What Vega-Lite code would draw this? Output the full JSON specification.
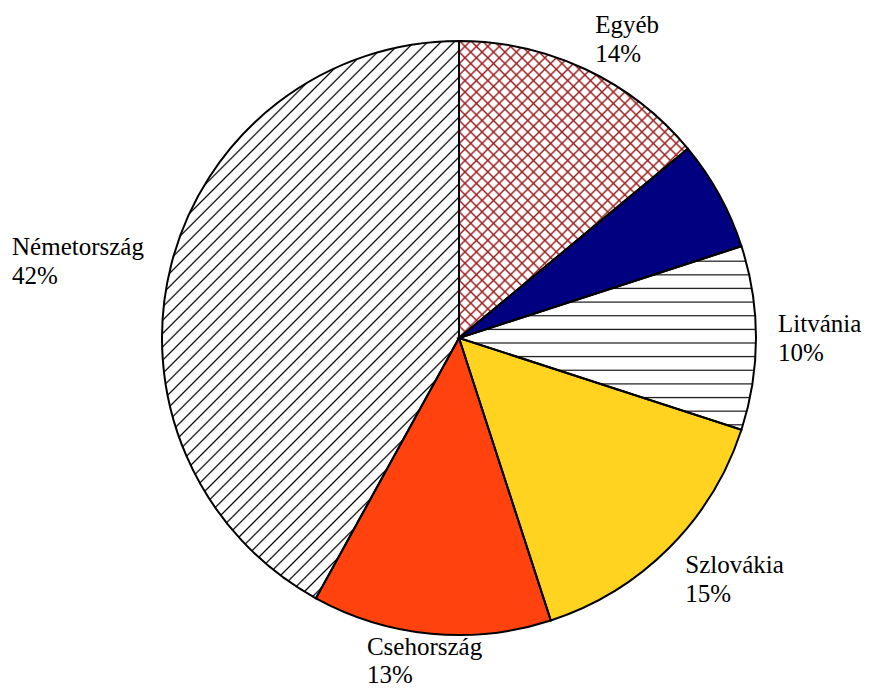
{
  "$schema": "https://vega.github.io/schema/vega-lite/v6.json",
  "width": 820,
  "height": 676,
  "autosize": {"type": "none"},
  "padding": {"left": 49, "top": 0, "right": 0, "bottom": 13},
  "background": "#ffffff",
  "view": {"stroke": null},
  "config": {"font": "Liberation Serif"},
  "data": {"values": [
    {"name": "Egyéb", "value": 14, "order": 1},
    {"name": "Ismeretlen", "value": 6, "order": 2},
    {"name": "Litvánia", "value": 10, "order": 3},
    {"name": "Szlovákia", "value": 15, "order": 4},
    {"name": "Csehország", "value": 13, "order": 5},
    {"name": "Németország", "value": 42, "order": 6}
  ]},
  "transform": [
    {"stack": "value", "groupby": [], "sort": [{"field": "order", "order": "ascending"}], "as": ["v0", "v1"]},
    {"calculate": "(datum.v0 + datum.v1) / 2", "as": "mid"},
    {"calculate": "datum.name + '\\n' + datum.value + '%'", "as": "label"}
  ],
  "layer": [
    {
      "mark": {"type": "arc", "radius": 297},
      "encoding": {
        "theta": {"field": "v0", "type": "quantitative", "scale": {"domain": [0, 100]}},
        "theta2": {"field": "v1"},
        "fill": {"field": "name", "type": "nominal", "legend": null,
          "scale": {"domain": ["Egyéb", "Ismeretlen", "Litvánia", "Szlovákia", "Csehország", "Németország"],
                    "range": ["#ffffff", "#000080", "#ffffff", "#ffd320", "#ff420e", "#ffffff"]}}
      }
    },
    {
      "transform": [{"filter": {"field": "name", "equal": "Németország"}}],
      "mark": {"type": "arc", "radius": 297, "fill": {"gradient": "linear", "x1": 0, "y1": 0, "x2": 0.6362, "y2": 1.1939, "stops": [
        {"offset": 0, "color": "#fff"},
        {"offset": 0.2008, "color": "#fff"}, {"offset": 0.2028, "color": "#000"}, {"offset": 0.2048, "color": "#fff"},
        {"offset": 0.2164, "color": "#fff"}, {"offset": 0.2184, "color": "#000"}, {"offset": 0.2204, "color": "#fff"},
        {"offset": 0.232, "color": "#fff"}, {"offset": 0.234, "color": "#000"}, {"offset": 0.236, "color": "#fff"},
        {"offset": 0.2476, "color": "#fff"}, {"offset": 0.2496, "color": "#000"}, {"offset": 0.2516, "color": "#fff"},
        {"offset": 0.2632, "color": "#fff"}, {"offset": 0.2652, "color": "#000"}, {"offset": 0.2672, "color": "#fff"},
        {"offset": 0.2788, "color": "#fff"}, {"offset": 0.2808, "color": "#000"}, {"offset": 0.2828, "color": "#fff"},
        {"offset": 0.2944, "color": "#fff"}, {"offset": 0.2964, "color": "#000"}, {"offset": 0.2984, "color": "#fff"},
        {"offset": 0.31, "color": "#fff"}, {"offset": 0.312, "color": "#000"}, {"offset": 0.314, "color": "#fff"},
        {"offset": 0.3256, "color": "#fff"}, {"offset": 0.3276, "color": "#000"}, {"offset": 0.3296, "color": "#fff"},
        {"offset": 0.3412, "color": "#fff"}, {"offset": 0.3432, "color": "#000"}, {"offset": 0.3452, "color": "#fff"},
        {"offset": 0.3568, "color": "#fff"}, {"offset": 0.3588, "color": "#000"}, {"offset": 0.3608, "color": "#fff"},
        {"offset": 0.3724, "color": "#fff"}, {"offset": 0.3744, "color": "#000"}, {"offset": 0.3764, "color": "#fff"},
        {"offset": 0.388, "color": "#fff"}, {"offset": 0.39, "color": "#000"}, {"offset": 0.392, "color": "#fff"},
        {"offset": 0.4036, "color": "#fff"}, {"offset": 0.4056, "color": "#000"}, {"offset": 0.4076, "color": "#fff"},
        {"offset": 0.4192, "color": "#fff"}, {"offset": 0.4212, "color": "#000"}, {"offset": 0.4232, "color": "#fff"},
        {"offset": 0.4348, "color": "#fff"}, {"offset": 0.4368, "color": "#000"}, {"offset": 0.4388, "color": "#fff"},
        {"offset": 0.4504, "color": "#fff"}, {"offset": 0.4524, "color": "#000"}, {"offset": 0.4544, "color": "#fff"},
        {"offset": 0.466, "color": "#fff"}, {"offset": 0.468, "color": "#000"}, {"offset": 0.47, "color": "#fff"},
        {"offset": 0.4816, "color": "#fff"}, {"offset": 0.4836, "color": "#000"}, {"offset": 0.4856, "color": "#fff"},
        {"offset": 0.4972, "color": "#fff"}, {"offset": 0.4992, "color": "#000"}, {"offset": 0.5012, "color": "#fff"},
        {"offset": 0.5128, "color": "#fff"}, {"offset": 0.5148, "color": "#000"}, {"offset": 0.5168, "color": "#fff"},
        {"offset": 0.5284, "color": "#fff"}, {"offset": 0.5304, "color": "#000"}, {"offset": 0.5324, "color": "#fff"},
        {"offset": 0.544, "color": "#fff"}, {"offset": 0.546, "color": "#000"}, {"offset": 0.548, "color": "#fff"},
        {"offset": 0.5596, "color": "#fff"}, {"offset": 0.5616, "color": "#000"}, {"offset": 0.5636, "color": "#fff"},
        {"offset": 0.5752, "color": "#fff"}, {"offset": 0.5772, "color": "#000"}, {"offset": 0.5792, "color": "#fff"},
        {"offset": 0.5908, "color": "#fff"}, {"offset": 0.5928, "color": "#000"}, {"offset": 0.5948, "color": "#fff"},
        {"offset": 0.6064, "color": "#fff"}, {"offset": 0.6084, "color": "#000"}, {"offset": 0.6104, "color": "#fff"},
        {"offset": 0.622, "color": "#fff"}, {"offset": 0.624, "color": "#000"}, {"offset": 0.626, "color": "#fff"},
        {"offset": 0.6376, "color": "#fff"}, {"offset": 0.6396, "color": "#000"}, {"offset": 0.6416, "color": "#fff"},
        {"offset": 0.6532, "color": "#fff"}, {"offset": 0.6552, "color": "#000"}, {"offset": 0.6572, "color": "#fff"},
        {"offset": 0.6688, "color": "#fff"}, {"offset": 0.6708, "color": "#000"}, {"offset": 0.6728, "color": "#fff"},
        {"offset": 0.6844, "color": "#fff"}, {"offset": 0.6864, "color": "#000"}, {"offset": 0.6884, "color": "#fff"},
        {"offset": 0.7, "color": "#fff"}, {"offset": 0.702, "color": "#000"}, {"offset": 0.704, "color": "#fff"},
        {"offset": 0.7156, "color": "#fff"}, {"offset": 0.7176, "color": "#000"}, {"offset": 0.7196, "color": "#fff"},
        {"offset": 0.7312, "color": "#fff"}, {"offset": 0.7332, "color": "#000"}, {"offset": 0.7352, "color": "#fff"},
        {"offset": 0.7468, "color": "#fff"}, {"offset": 0.7488, "color": "#000"}, {"offset": 0.7508, "color": "#fff"},
        {"offset": 0.7624, "color": "#fff"}, {"offset": 0.7644, "color": "#000"}, {"offset": 0.7664, "color": "#fff"},
        {"offset": 0.778, "color": "#fff"}, {"offset": 0.78, "color": "#000"}, {"offset": 0.782, "color": "#fff"},
        {"offset": 0.7936, "color": "#fff"}, {"offset": 0.7956, "color": "#000"}, {"offset": 0.7976, "color": "#fff"},
        {"offset": 0.8092, "color": "#fff"}, {"offset": 0.8112, "color": "#000"}, {"offset": 0.8132, "color": "#fff"},
        {"offset": 0.8248, "color": "#fff"}, {"offset": 0.8268, "color": "#000"}, {"offset": 0.8288, "color": "#fff"},
        {"offset": 0.8404, "color": "#fff"}, {"offset": 0.8424, "color": "#000"}, {"offset": 0.8444, "color": "#fff"},
        {"offset": 1, "color": "#fff"}
      ]}},
      "encoding": {
        "theta": {"field": "v0", "type": "quantitative", "scale": {"domain": [0, 100]}},
        "theta2": {"field": "v1"}
      }
    },
    {
      "transform": [{"filter": {"field": "name", "equal": "Litvánia"}}],
      "mark": {"type": "arc", "radius": 297, "fill": {"gradient": "linear", "x1": 0, "y1": 0, "x2": 0, "y2": 1, "stops": [
        {"offset": 0, "color": "#fff"},
        {"offset": 0.0752, "color": "#fff"}, {"offset": 0.0817, "color": "#111"}, {"offset": 0.0882, "color": "#fff"},
        {"offset": 0.1493, "color": "#fff"}, {"offset": 0.1558, "color": "#111"}, {"offset": 0.1623, "color": "#fff"},
        {"offset": 0.2233, "color": "#fff"}, {"offset": 0.2298, "color": "#111"}, {"offset": 0.2363, "color": "#fff"},
        {"offset": 0.298, "color": "#fff"}, {"offset": 0.3045, "color": "#111"}, {"offset": 0.311, "color": "#fff"},
        {"offset": 0.372, "color": "#fff"}, {"offset": 0.3785, "color": "#111"}, {"offset": 0.385, "color": "#fff"},
        {"offset": 0.4467, "color": "#fff"}, {"offset": 0.4532, "color": "#111"}, {"offset": 0.4597, "color": "#fff"},
        {"offset": 0.5207, "color": "#fff"}, {"offset": 0.5272, "color": "#111"}, {"offset": 0.5337, "color": "#fff"},
        {"offset": 0.5948, "color": "#fff"}, {"offset": 0.6013, "color": "#111"}, {"offset": 0.6078, "color": "#fff"},
        {"offset": 0.6694, "color": "#fff"}, {"offset": 0.6759, "color": "#111"}, {"offset": 0.6824, "color": "#fff"},
        {"offset": 0.7435, "color": "#fff"}, {"offset": 0.75, "color": "#111"}, {"offset": 0.7565, "color": "#fff"},
        {"offset": 0.8181, "color": "#fff"}, {"offset": 0.8246, "color": "#111"}, {"offset": 0.8311, "color": "#fff"},
        {"offset": 0.8922, "color": "#fff"}, {"offset": 0.8987, "color": "#111"}, {"offset": 0.9052, "color": "#fff"},
        {"offset": 0.9663, "color": "#fff"}, {"offset": 0.9728, "color": "#111"}, {"offset": 0.9793, "color": "#fff"},
        {"offset": 1, "color": "#fff"}
      ]}},
      "encoding": {
        "theta": {"field": "v0", "type": "quantitative", "scale": {"domain": [0, 100]}},
        "theta2": {"field": "v1"}
      }
    },
    {
      "transform": [{"filter": {"field": "name", "equal": "Egyéb"}}],
      "mark": {"type": "arc", "radius": 297, "fill": {"gradient": "linear", "x1": 0, "y1": 0, "x2": 0.8559, "y2": 1.1111, "stops": [
        {"offset": 0, "color": "#fff"},
        {"offset": 0.0177, "color": "#fff"}, {"offset": 0.0217, "color": "#9c2222"}, {"offset": 0.0257, "color": "#fff"},
        {"offset": 0.0394, "color": "#fff"}, {"offset": 0.0434, "color": "#9c2222"}, {"offset": 0.0474, "color": "#fff"},
        {"offset": 0.0611, "color": "#fff"}, {"offset": 0.0651, "color": "#9c2222"}, {"offset": 0.0691, "color": "#fff"},
        {"offset": 0.0828, "color": "#fff"}, {"offset": 0.0868, "color": "#9c2222"}, {"offset": 0.0908, "color": "#fff"},
        {"offset": 0.1045, "color": "#fff"}, {"offset": 0.1085, "color": "#9c2222"}, {"offset": 0.1125, "color": "#fff"},
        {"offset": 0.1262, "color": "#fff"}, {"offset": 0.1302, "color": "#9c2222"}, {"offset": 0.1342, "color": "#fff"},
        {"offset": 0.1479, "color": "#fff"}, {"offset": 0.1519, "color": "#9c2222"}, {"offset": 0.1559, "color": "#fff"},
        {"offset": 0.1696, "color": "#fff"}, {"offset": 0.1736, "color": "#9c2222"}, {"offset": 0.1776, "color": "#fff"},
        {"offset": 0.1913, "color": "#fff"}, {"offset": 0.1953, "color": "#9c2222"}, {"offset": 0.1993, "color": "#fff"},
        {"offset": 0.213, "color": "#fff"}, {"offset": 0.217, "color": "#9c2222"}, {"offset": 0.221, "color": "#fff"},
        {"offset": 0.2347, "color": "#fff"}, {"offset": 0.2387, "color": "#9c2222"}, {"offset": 0.2427, "color": "#fff"},
        {"offset": 0.2564, "color": "#fff"}, {"offset": 0.2604, "color": "#9c2222"}, {"offset": 0.2644, "color": "#fff"},
        {"offset": 0.2781, "color": "#fff"}, {"offset": 0.2821, "color": "#9c2222"}, {"offset": 0.2861, "color": "#fff"},
        {"offset": 0.2998, "color": "#fff"}, {"offset": 0.3038, "color": "#9c2222"}, {"offset": 0.3078, "color": "#fff"},
        {"offset": 0.3215, "color": "#fff"}, {"offset": 0.3255, "color": "#9c2222"}, {"offset": 0.3295, "color": "#fff"},
        {"offset": 0.3432, "color": "#fff"}, {"offset": 0.3472, "color": "#9c2222"}, {"offset": 0.3512, "color": "#fff"},
        {"offset": 0.3649, "color": "#fff"}, {"offset": 0.3689, "color": "#9c2222"}, {"offset": 0.3729, "color": "#fff"},
        {"offset": 0.3866, "color": "#fff"}, {"offset": 0.3906, "color": "#9c2222"}, {"offset": 0.3946, "color": "#fff"},
        {"offset": 0.4083, "color": "#fff"}, {"offset": 0.4123, "color": "#9c2222"}, {"offset": 0.4163, "color": "#fff"},
        {"offset": 0.43, "color": "#fff"}, {"offset": 0.434, "color": "#9c2222"}, {"offset": 0.438, "color": "#fff"},
        {"offset": 0.4517, "color": "#fff"}, {"offset": 0.4557, "color": "#9c2222"}, {"offset": 0.4597, "color": "#fff"},
        {"offset": 0.4734, "color": "#fff"}, {"offset": 0.4774, "color": "#9c2222"}, {"offset": 0.4814, "color": "#fff"},
        {"offset": 0.4951, "color": "#fff"}, {"offset": 0.4991, "color": "#9c2222"}, {"offset": 0.5031, "color": "#fff"},
        {"offset": 0.5168, "color": "#fff"}, {"offset": 0.5208, "color": "#9c2222"}, {"offset": 0.5248, "color": "#fff"},
        {"offset": 0.5385, "color": "#fff"}, {"offset": 0.5425, "color": "#9c2222"}, {"offset": 0.5465, "color": "#fff"},
        {"offset": 0.5602, "color": "#fff"}, {"offset": 0.5642, "color": "#9c2222"}, {"offset": 0.5682, "color": "#fff"},
        {"offset": 0.5819, "color": "#fff"}, {"offset": 0.5859, "color": "#9c2222"}, {"offset": 0.5899, "color": "#fff"},
        {"offset": 0.6036, "color": "#fff"}, {"offset": 0.6076, "color": "#9c2222"}, {"offset": 0.6116, "color": "#fff"},
        {"offset": 0.6253, "color": "#fff"}, {"offset": 0.6293, "color": "#9c2222"}, {"offset": 0.6333, "color": "#fff"},
        {"offset": 0.647, "color": "#fff"}, {"offset": 0.651, "color": "#9c2222"}, {"offset": 0.655, "color": "#fff"},
        {"offset": 1, "color": "#fff"}
      ]}},
      "encoding": {
        "theta": {"field": "v0", "type": "quantitative", "scale": {"domain": [0, 100]}},
        "theta2": {"field": "v1"}
      }
    },
    {
      "transform": [{"filter": {"field": "name", "equal": "Egyéb"}}],
      "mark": {"type": "arc", "radius": 297, "fill": {"gradient": "linear", "x1": 1, "y1": 0, "x2": 0.1441, "y2": 1.1111, "stops": [
        {"offset": 0, "color": "rgba(156,34,34,0)"},
        {"offset": 0.1913, "color": "rgba(156,34,34,0)"}, {"offset": 0.1953, "color": "#9c2222"}, {"offset": 0.1993, "color": "rgba(156,34,34,0)"},
        {"offset": 0.213, "color": "rgba(156,34,34,0)"}, {"offset": 0.217, "color": "#9c2222"}, {"offset": 0.221, "color": "rgba(156,34,34,0)"},
        {"offset": 0.2347, "color": "rgba(156,34,34,0)"}, {"offset": 0.2387, "color": "#9c2222"}, {"offset": 0.2427, "color": "rgba(156,34,34,0)"},
        {"offset": 0.2564, "color": "rgba(156,34,34,0)"}, {"offset": 0.2604, "color": "#9c2222"}, {"offset": 0.2644, "color": "rgba(156,34,34,0)"},
        {"offset": 0.2781, "color": "rgba(156,34,34,0)"}, {"offset": 0.2821, "color": "#9c2222"}, {"offset": 0.2861, "color": "rgba(156,34,34,0)"},
        {"offset": 0.2998, "color": "rgba(156,34,34,0)"}, {"offset": 0.3038, "color": "#9c2222"}, {"offset": 0.3078, "color": "rgba(156,34,34,0)"},
        {"offset": 0.3215, "color": "rgba(156,34,34,0)"}, {"offset": 0.3255, "color": "#9c2222"}, {"offset": 0.3295, "color": "rgba(156,34,34,0)"},
        {"offset": 0.3432, "color": "rgba(156,34,34,0)"}, {"offset": 0.3472, "color": "#9c2222"}, {"offset": 0.3512, "color": "rgba(156,34,34,0)"},
        {"offset": 0.3649, "color": "rgba(156,34,34,0)"}, {"offset": 0.3689, "color": "#9c2222"}, {"offset": 0.3729, "color": "rgba(156,34,34,0)"},
        {"offset": 0.3866, "color": "rgba(156,34,34,0)"}, {"offset": 0.3906, "color": "#9c2222"}, {"offset": 0.3946, "color": "rgba(156,34,34,0)"},
        {"offset": 0.4083, "color": "rgba(156,34,34,0)"}, {"offset": 0.4123, "color": "#9c2222"}, {"offset": 0.4163, "color": "rgba(156,34,34,0)"},
        {"offset": 0.43, "color": "rgba(156,34,34,0)"}, {"offset": 0.434, "color": "#9c2222"}, {"offset": 0.438, "color": "rgba(156,34,34,0)"},
        {"offset": 0.4517, "color": "rgba(156,34,34,0)"}, {"offset": 0.4557, "color": "#9c2222"}, {"offset": 0.4597, "color": "rgba(156,34,34,0)"},
        {"offset": 0.4734, "color": "rgba(156,34,34,0)"}, {"offset": 0.4774, "color": "#9c2222"}, {"offset": 0.4814, "color": "rgba(156,34,34,0)"},
        {"offset": 0.4951, "color": "rgba(156,34,34,0)"}, {"offset": 0.4991, "color": "#9c2222"}, {"offset": 0.5031, "color": "rgba(156,34,34,0)"},
        {"offset": 0.5168, "color": "rgba(156,34,34,0)"}, {"offset": 0.5208, "color": "#9c2222"}, {"offset": 0.5248, "color": "rgba(156,34,34,0)"},
        {"offset": 0.5385, "color": "rgba(156,34,34,0)"}, {"offset": 0.5425, "color": "#9c2222"}, {"offset": 0.5465, "color": "rgba(156,34,34,0)"},
        {"offset": 0.5602, "color": "rgba(156,34,34,0)"}, {"offset": 0.5642, "color": "#9c2222"}, {"offset": 0.5682, "color": "rgba(156,34,34,0)"},
        {"offset": 0.5819, "color": "rgba(156,34,34,0)"}, {"offset": 0.5859, "color": "#9c2222"}, {"offset": 0.5899, "color": "rgba(156,34,34,0)"},
        {"offset": 0.6036, "color": "rgba(156,34,34,0)"}, {"offset": 0.6076, "color": "#9c2222"}, {"offset": 0.6116, "color": "rgba(156,34,34,0)"},
        {"offset": 0.6253, "color": "rgba(156,34,34,0)"}, {"offset": 0.6293, "color": "#9c2222"}, {"offset": 0.6333, "color": "rgba(156,34,34,0)"},
        {"offset": 0.647, "color": "rgba(156,34,34,0)"}, {"offset": 0.651, "color": "#9c2222"}, {"offset": 0.655, "color": "rgba(156,34,34,0)"},
        {"offset": 0.6687, "color": "rgba(156,34,34,0)"}, {"offset": 0.6727, "color": "#9c2222"}, {"offset": 0.6767, "color": "rgba(156,34,34,0)"},
        {"offset": 0.6904, "color": "rgba(156,34,34,0)"}, {"offset": 0.6944, "color": "#9c2222"}, {"offset": 0.6984, "color": "rgba(156,34,34,0)"},
        {"offset": 0.7121, "color": "rgba(156,34,34,0)"}, {"offset": 0.7161, "color": "#9c2222"}, {"offset": 0.7201, "color": "rgba(156,34,34,0)"},
        {"offset": 0.7338, "color": "rgba(156,34,34,0)"}, {"offset": 0.7378, "color": "#9c2222"}, {"offset": 0.7418, "color": "rgba(156,34,34,0)"},
        {"offset": 0.7555, "color": "rgba(156,34,34,0)"}, {"offset": 0.7595, "color": "#9c2222"}, {"offset": 0.7635, "color": "rgba(156,34,34,0)"},
        {"offset": 0.7772, "color": "rgba(156,34,34,0)"}, {"offset": 0.7812, "color": "#9c2222"}, {"offset": 0.7852, "color": "rgba(156,34,34,0)"},
        {"offset": 0.7989, "color": "rgba(156,34,34,0)"}, {"offset": 0.8029, "color": "#9c2222"}, {"offset": 0.8069, "color": "rgba(156,34,34,0)"},
        {"offset": 0.8206, "color": "rgba(156,34,34,0)"}, {"offset": 0.8246, "color": "#9c2222"}, {"offset": 0.8286, "color": "rgba(156,34,34,0)"},
        {"offset": 0.8423, "color": "rgba(156,34,34,0)"}, {"offset": 0.8463, "color": "#9c2222"}, {"offset": 0.8503, "color": "rgba(156,34,34,0)"},
        {"offset": 0.864, "color": "rgba(156,34,34,0)"}, {"offset": 0.868, "color": "#9c2222"}, {"offset": 0.872, "color": "rgba(156,34,34,0)"},
        {"offset": 0.8857, "color": "rgba(156,34,34,0)"}, {"offset": 0.8897, "color": "#9c2222"}, {"offset": 0.8937, "color": "rgba(156,34,34,0)"},
        {"offset": 0.9074, "color": "rgba(156,34,34,0)"}, {"offset": 0.9114, "color": "#9c2222"}, {"offset": 0.9154, "color": "rgba(156,34,34,0)"},
        {"offset": 0.9291, "color": "rgba(156,34,34,0)"}, {"offset": 0.9331, "color": "#9c2222"}, {"offset": 0.9371, "color": "rgba(156,34,34,0)"},
        {"offset": 0.9508, "color": "rgba(156,34,34,0)"}, {"offset": 0.9548, "color": "#9c2222"}, {"offset": 0.9588, "color": "rgba(156,34,34,0)"},
        {"offset": 0.9725, "color": "rgba(156,34,34,0)"}, {"offset": 0.9765, "color": "#9c2222"}, {"offset": 0.9805, "color": "rgba(156,34,34,0)"},
        {"offset": 1, "color": "rgba(156,34,34,0)"}
      ]}},
      "encoding": {
        "theta": {"field": "v0", "type": "quantitative", "scale": {"domain": [0, 100]}},
        "theta2": {"field": "v1"}
      }
    },
    {
      "mark": {"type": "arc", "radius": 297, "fill": "transparent", "stroke": "#000000", "strokeWidth": 2},
      "encoding": {
        "theta": {"field": "v0", "type": "quantitative", "scale": {"domain": [0, 100]}},
        "theta2": {"field": "v1"}
      }
    },
    {
      "transform": [{"filter": {"field": "name", "equal": "Egyéb"}}],
      "mark": {"type": "text", "radius": 320, "align": "left", "baseline": "alphabetic", "dx": 0, "dy": -15, "font": "Liberation Serif", "fontSize": 25, "lineHeight": 29, "lineBreak": "\n", "color": "#000000"},
      "encoding": {"theta": {"field": "mid", "type": "quantitative", "stack": null, "scale": {"domain": [0, 100]}}, "text": {"field": "label"}}
    },
    {
      "transform": [{"filter": {"field": "name", "equal": "Litvánia"}}],
      "mark": {"type": "text", "radius": 320, "align": "left", "baseline": "alphabetic", "dx": -1, "dy": -6, "font": "Liberation Serif", "fontSize": 25, "lineHeight": 29, "lineBreak": "\n", "color": "#000000"},
      "encoding": {"theta": {"field": "mid", "type": "quantitative", "stack": null, "scale": {"domain": [0, 100]}}, "text": {"field": "label"}}
    },
    {
      "transform": [{"filter": {"field": "name", "equal": "Szlovákia"}}],
      "mark": {"type": "text", "radius": 320, "align": "left", "baseline": "alphabetic", "dx": 0, "dy": 9, "font": "Liberation Serif", "fontSize": 25, "lineHeight": 29, "lineBreak": "\n", "color": "#000000"},
      "encoding": {"theta": {"field": "mid", "type": "quantitative", "stack": null, "scale": {"domain": [0, 100]}}, "text": {"field": "label"}}
    },
    {
      "transform": [{"filter": {"field": "name", "equal": "Csehország"}}],
      "mark": {"type": "text", "radius": 320, "align": "left", "baseline": "alphabetic", "dx": -62, "dy": -2, "font": "Liberation Serif", "fontSize": 25, "lineHeight": 28, "lineBreak": "\n", "color": "#000000"},
      "encoding": {"theta": {"field": "mid", "type": "quantitative", "stack": null, "scale": {"domain": [0, 100]}}, "text": {"field": "label"}}
    },
    {
      "transform": [{"filter": {"field": "name", "equal": "Németország"}}],
      "mark": {"type": "text", "radius": 320, "align": "left", "baseline": "alphabetic", "dx": -137, "dy": -3, "font": "Liberation Serif", "fontSize": 25, "lineHeight": 29, "lineBreak": "\n", "color": "#000000"},
      "encoding": {"theta": {"field": "mid", "type": "quantitative", "stack": null, "scale": {"domain": [0, 100]}}, "text": {"field": "label"}}
    }
  ]
}
